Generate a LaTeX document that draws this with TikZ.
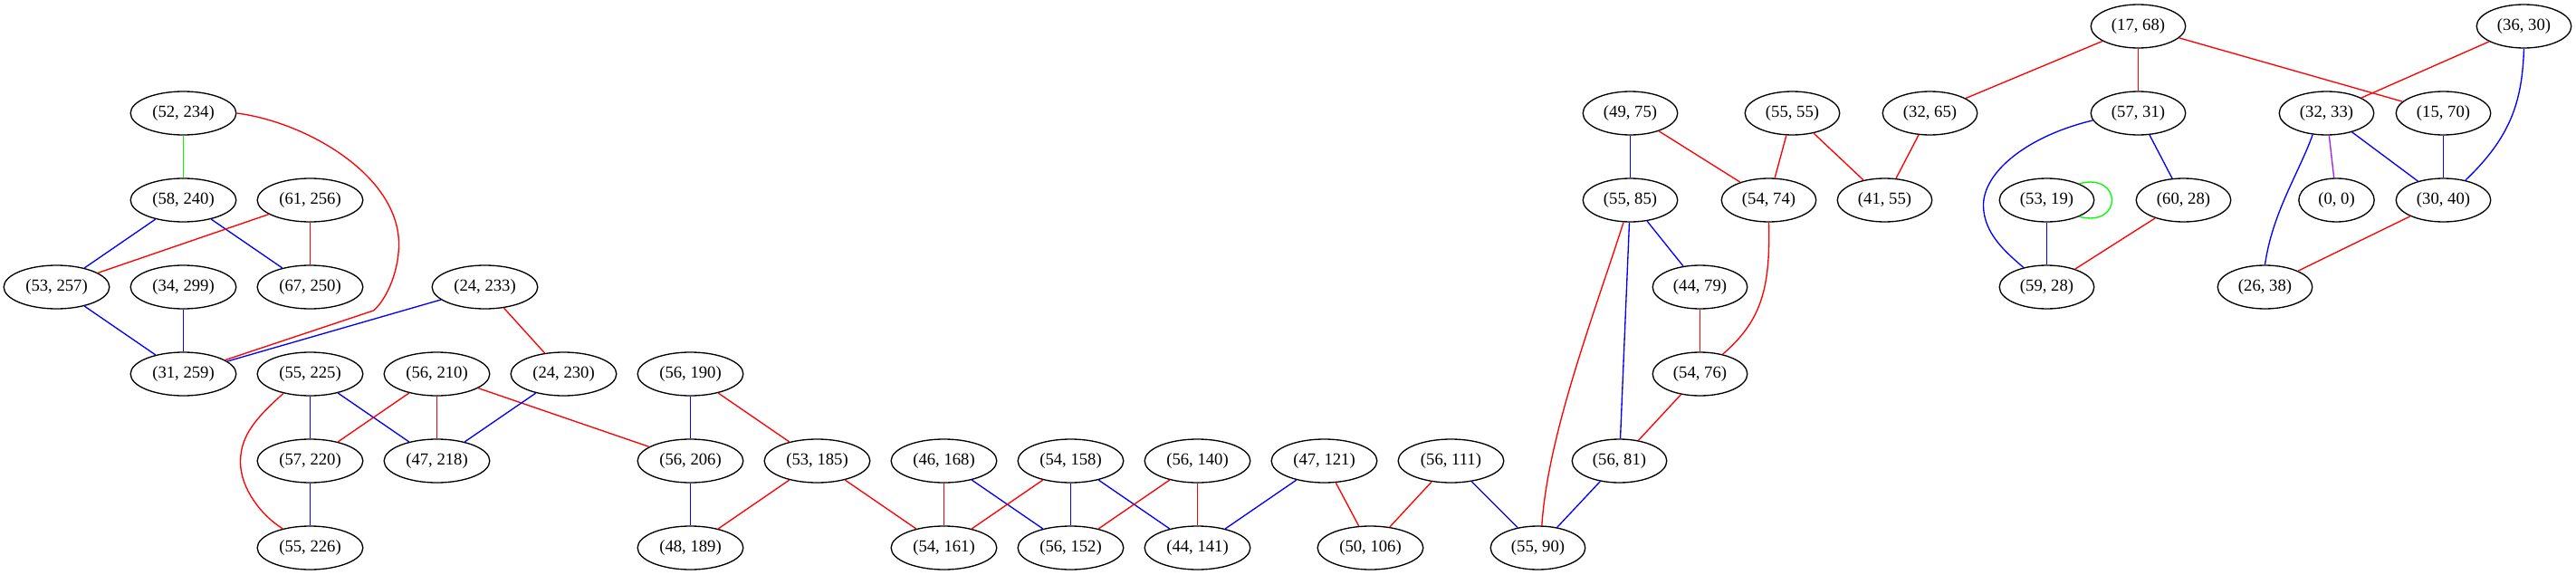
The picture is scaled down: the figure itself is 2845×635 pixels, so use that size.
\documentclass[tikz,border=0pt]{standalone}
\usepackage{fontspec}
\setmainfont{Liberation Serif}
\usetikzlibrary{shapes.geometric}
\definecolor{gvred}{HTML}{FF0000}
\definecolor{gvblue}{HTML}{0000FF}
\definecolor{gvgreen}{HTML}{00FF00}
\definecolor{gvpurple}{HTML}{A020F0}
\begin{document}
\begin{tikzpicture}[x=0.75pt,y=-0.75pt,
  nd/.style={draw, ellipse, line width=1pt, inner sep=0pt, minimum height=36pt, font=\fontsize{14pt}{16pt}\selectfont},
  wA/.style={nd, minimum width=87.5pt},
  wB/.style={nd, minimum width=78.4pt},
  wC/.style={nd, minimum width=62.5pt},
  ed/.style={line width=1pt},
  er/.style={ed, draw=gvred},
  eb/.style={ed, draw=gvblue},
  eg/.style={ed, draw=gvgreen},
  ep/.style={ed, draw=gvpurple}]
\useasboundingbox (0,0) rectangle (2845,635);
\begin{scope}[xshift=-0.375pt]
% row 29
\node[wB] (n17x68) at (2362,29) {(17, 68)};
\node[wB] (n36x30) at (2788,29) {(36, 30)};
% row 125
\node[wA] (n52x234) at (203,125) {(52, 234)};
\node[wB] (n49x75) at (1801,125) {(49, 75)};
\node[wB] (n55x55) at (1980,125) {(55, 55)};
\node[wB] (n32x65) at (2132,125) {(32, 65)};
\node[wB] (n57x31) at (2362,125) {(57, 31)};
\node[wB] (n32x33) at (2570,125) {(32, 33)};
\node[wB] (n15x70) at (2699,125) {(15, 70)};
% row 221
\node[wA] (n58x240) at (203,221) {(58, 240)};
\node[wA] (n61x256) at (343,221) {(61, 256)};
\node[wB] (n55x85) at (1801,221) {(55, 85)};
\node[wB] (n54x74) at (1954,221) {(54, 74)};
\node[wB] (n41x55) at (2082,221) {(41, 55)};
\node[wB] (n53x19) at (2261,221) {(53, 19)};
\node[wB] (n60x28) at (2412,221) {(60, 28)};
\node[wC] (n0x0) at (2581,221) {(0, 0)};
\node[wB] (n30x40) at (2699,221) {(30, 40)};
% row 317
\node[wA] (n53x257) at (63,317) {(53, 257)};
\node[wA] (n34x299) at (203,317) {(34, 299)};
\node[wA] (n67x250) at (343,317) {(67, 250)};
\node[wA] (n24x233) at (536,317) {(24, 233)};
\node[wB] (n44x79) at (1878,317) {(44, 79)};
\node[wB] (n59x28) at (2261,317) {(59, 28)};
\node[wB] (n26x38) at (2502,317) {(26, 38)};
% row 413
\node[wA] (n31x259) at (203,413) {(31, 259)};
\node[wA] (n55x225) at (343,413) {(55, 225)};
\node[wA] (n56x210) at (483,413) {(56, 210)};
\node[wA] (n24x230) at (623,413) {(24, 230)};
\node[wA] (n56x190) at (763,413) {(56, 190)};
\node[wB] (n54x76) at (1878,413) {(54, 76)};
% row 509
\node[wA] (n57x220) at (343,509) {(57, 220)};
\node[wA] (n47x218) at (483,509) {(47, 218)};
\node[wA] (n56x206) at (763,509) {(56, 206)};
\node[wA] (n53x185) at (903,509) {(53, 185)};
\node[wA] (n46x168) at (1043,509) {(46, 168)};
\node[wA] (n54x158) at (1183,509) {(54, 158)};
\node[wA] (n56x140) at (1323,509) {(56, 140)};
\node[wA] (n47x121) at (1463,509) {(47, 121)};
\node[wA] (n56x111) at (1603,509) {(56, 111)};
\node[wB] (n56x81) at (1789,509) {(56, 81)};
% row 605
\node[wA] (n55x226) at (343,605) {(55, 226)};
\node[wA] (n48x189) at (763,605) {(48, 189)};
\node[wA] (n54x161) at (1043,605) {(54, 161)};
\node[wA] (n56x152) at (1183,605) {(56, 152)};
\node[wA] (n44x141) at (1323,605) {(44, 141)};
\node[wA] (n50x106) at (1514,605) {(50, 106)};
\node[wB] (n55x90) at (1699,605) {(55, 90)};

% left cluster
\draw[eg] (n52x234) -- (n58x240);
\draw[er] (n52x234.east) .. controls (340,135) and (443,195) .. (441,272) .. controls (440,305) and (425,333) .. (413,343) -- (n31x259);
\draw[eb] (n58x240) -- (n53x257);
\draw[eb] (n58x240) -- (n67x250);
\draw[er] (n61x256) -- (n53x257);
\draw[er] (n61x256) -- (n67x250);
\draw[eb] (n53x257) -- (n31x259);
\draw[eb] (n34x299) -- (n31x259);
\draw[eb] (n24x233) -- (n31x259);
\draw[er] (n24x233) -- (n24x230);
\draw[eb] (n55x225) -- (n57x220);
\draw[eb] (n55x225) -- (n47x218);
\draw[er] (n55x225.216) .. controls (285,460) and (266,480) .. (266,510) .. controls (266,540) and (290,570) .. (n55x226.145);
\draw[er] (n56x210) -- (n57x220);
\draw[er] (n56x210) -- (n47x218);
\draw[er] (n56x210) -- (n56x206);
\draw[eb] (n24x230) -- (n47x218);
\draw[eb] (n57x220) -- (n55x226);
% middle
\draw[eb] (n56x190) -- (n56x206);
\draw[er] (n56x190) -- (n53x185);
\draw[eb] (n56x206) -- (n48x189);
\draw[er] (n53x185) -- (n48x189);
\draw[er] (n53x185) -- (n54x161);
\draw[er] (n46x168) -- (n54x161);
\draw[eb] (n46x168) -- (n56x152);
\draw[er] (n54x158) -- (n54x161);
\draw[eb] (n54x158) -- (n56x152);
\draw[eb] (n54x158) -- (n44x141);
\draw[er] (n56x140) -- (n56x152);
\draw[er] (n56x140) -- (n44x141);
\draw[eb] (n47x121) -- (n44x141);
\draw[er] (n47x121) -- (n50x106);
\draw[er] (n56x111) -- (n50x106);
\draw[eb] (n56x111) -- (n55x90);
\draw[eb] (n56x81) -- (n55x90);
\draw[er] (n55x85.253) .. controls (1760,350) and (1710,480) .. (n55x90.80);
\draw[eb] (n55x85) -- (n56x81);
\draw[eb] (n55x85) -- (n44x79);
\draw[er] (n44x79) -- (n54x76);
\draw[er] (n54x74.south) .. controls (1956,320) and (1945,355) .. (n54x76.41);
\draw[er] (n54x76) -- (n56x81);
\draw[eb] (n49x75) -- (n55x85);
\draw[er] (n49x75) -- (n54x74);
\draw[er] (n55x55) -- (n54x74);
\draw[er] (n55x55) -- (n41x55);
\draw[er] (n32x65) -- (n41x55);
% right
\draw[er] (n17x68) -- (n32x65);
\draw[er] (n17x68) -- (n57x31);
\draw[er] (n17x68) -- (n15x70);
\draw[er] (n36x30) -- (n32x33);
\draw[eb] (n36x30.south) .. controls (2786,110) and (2775,150) .. (n30x40.42);
\draw[eb] (n57x31.189) .. controls (2240,150) and (2190,190) .. (2191,228) .. controls (2192,258) and (2215,278) .. (n59x28.140);
\draw[eb] (n57x31) -- (n60x28);
\draw[eg] (n53x19.27) .. controls (2345,190) and (2345,252) .. (n53x19.-27);
\draw[eb] (n53x19) -- (n59x28);
\draw[er] (n60x28) -- (n59x28);
\draw[ep] (n32x33) -- (n0x0);
\draw[eb] (n32x33) -- (n30x40);
\draw[eb] (n32x33.237) .. controls (2540,190) and (2510,235) .. (n26x38.north);
\draw[eb] (n15x70) -- (n30x40);
\draw[er] (n30x40) -- (n26x38);
\end{scope}
\end{tikzpicture}
\end{document}
